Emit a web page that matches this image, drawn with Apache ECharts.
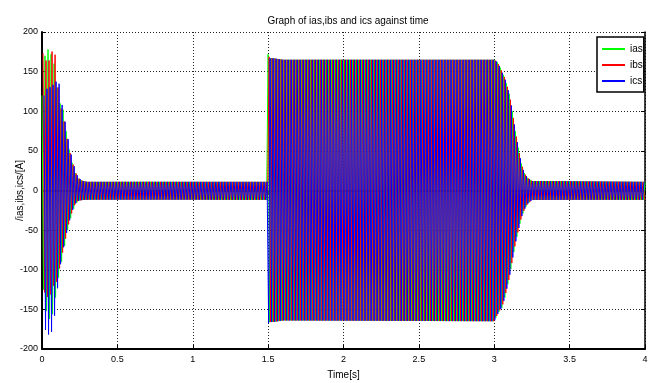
<!DOCTYPE html>
<html>
<head>
<meta charset="utf-8">
<script src="https://cdn.jsdelivr.net/npm/echarts@6/dist/echarts.min.js"></script>
<style>
  html, body { margin: 0; padding: 0; background: #fff; }
  #chart { width: 655px; height: 383px; }
</style>
</head>
<body>
<div id="chart"></div>
<script>
// Stator phase currents of the machine, 0..4 s, supply at 50 Hz.
const SUPPLY_HZ = 50;
const phaseNames = ['ias', 'ibs', 'ics'];
const phaseColors = ['#00ff00', '#ff0000', '#0000ff'];
const phaseDelayFraction = [0, 1 / 3, 2 / 3]; // 120 degree phase shift, as fraction of a period

const xTicks = [0, 0.5, 1, 1.5, 2, 2.5, 3, 3.5, 4];
const yTicks = [-200, -150, -100, -50, 0, 50, 100, 150, 200];

// Start-up transient: peak currents (A) per phase
const startTimes = [0, 0.01, 0.02, 0.03, 0.04, 0.05, 0.06, 0.07, 0.08, 0.09, 0.10, 0.11, 0.12, 0.13, 0.14, 0.15, 0.16, 0.17, 0.18, 0.19, 0.20, 0.22, 0.24, 0.27, 0.30];
const iasStartUpper = [120, 150, 170, 178, 178, 174, 172, 165, 160, 145, 130, 118, 110, 105, 102, 88, 75, 62, 52, 43, 35, 22, 15, 12, 11];
const ibsStartUpper = [150, 185, 172, 160, 162, 165, 172, 177, 174, 170, 140, 125, 110, 100, 92, 85, 72, 62, 52, 45, 37, 24, 16, 12, 11];
const icsStartUpper = [60, 110, 140, 130, 125, 128, 135, 134, 132, 136, 140, 138, 128, 112, 100, 90, 80, 68, 58, 48, 40, 26, 16, 12, 11];
const iasStartLower = [-100, -125, -140, -152, -160, -162, -160, -156, -150, -135, -120, -110, -100, -90, -80, -70, -60, -50, -42, -35, -28, -18, -13, -12, -11.7];
const ibsStartLower = [-120, -126, -130, -133, -135, -133, -130, -124, -118, -116, -115, -105, -95, -85, -75, -66, -58, -48, -40, -33, -27, -17, -13, -12, -11.7];
const icsStartLower = [-185, -178, -175, -178, -180, -185, -180, -175, -162, -150, -130, -110, -97, -85, -75, -65, -56, -48, -40, -33, -26, -17, -13, -12, -11.7];

// Running period: no-load, load step at 1.5 s, load removed at 3.0 s
const runTimes = [0.30, 1.499, 1.50, 1.51, 1.53, 1.60, 3.00, 3.02, 3.04, 3.05, 3.07, 3.10, 3.12, 3.14, 3.16, 3.18, 3.20, 3.22, 3.25, 4.00];
const runUpper = [11, 11, 172, 167, 167, 165, 165, 162, 155, 150, 142, 122, 100, 75, 54, 34, 22, 16, 12, 11];
const runLower = [-11.7, -11.7, -168, -166, -166, -164, -165, -157, -150, -148, -135, -110, -88, -67, -50, -34, -24, -17, -12, -11.7];

const startUpperByPhase = [iasStartUpper, ibsStartUpper, icsStartUpper];
const startLowerByPhase = [iasStartLower, ibsStartLower, icsStartLower];

function lookup(times, values, t) {
  if (t <= times[0]) return values[0];
  for (let i = 1; i < times.length; i++) {
    if (t <= times[i]) {
      const f = (t - times[i - 1]) / (times[i] - times[i - 1]);
      return values[i - 1] + f * (values[i] - values[i - 1]);
    }
  }
  return values[values.length - 1];
}

function peakAt(p, t, positive) {
  if (t < runTimes[0]) {
    return lookup(startTimes, positive ? startUpperByPhase[p] : startLowerByPhase[p], t);
  }
  return lookup(runTimes, positive ? runUpper : runLower, t);
}

// Each phase is drawn through its successive positive and negative peaks.
function phaseSeries(p) {
  const halfPeriod = 0.5 / SUPPLY_HZ;
  const delay = phaseDelayFraction[p] / SUPPLY_HZ;
  const pts = [];
  for (let k = 0; ; k++) {
    const t = delay + k * halfPeriod;
    if (t > 4) break;
    pts.push([t, peakAt(p, t, k % 2 === 0)]);
  }
  return pts;
}

const FONT = '"Liberation Sans Narrow", "Liberation Sans", Arial, sans-serif';

const series = phaseNames.map((name, p) => ({
  name: name,
  type: 'line',
  data: phaseSeries(p),
  symbol: 'none',
  showSymbol: false,
  sampling: false,
  animation: false,
  lineStyle: { width: 1, color: phaseColors[p] },
  itemStyle: { color: phaseColors[p] },
  xAxisIndex: 0,
  yAxisIndex: 0,
  z: 3
}));

const chart = echarts.init(document.getElementById('chart'), null, { renderer: 'canvas' });
chart.setOption({
  backgroundColor: '#ffffff',
  animation: false,
  title: {
    text: 'Graph of ias,ibs and ics against time',
    left: 343,
    top: 11,
    textAlign: 'center',
    textStyle: { fontFamily: FONT, fontSize: 10, fontWeight: 'normal', color: '#000' }
  },
  legend: {
    data: phaseNames.map((n, p) => ({ name: n, icon: 'rect', itemStyle: { color: phaseColors[p] } })),
    orient: 'vertical',
    left: 597,
    top: 37,
    padding: [6, 1, 5, 5],
    itemGap: 4,
    itemWidth: 23,
    itemHeight: 2,
    backgroundColor: '#fff',
    borderColor: '#000',
    borderWidth: 1.5,
    borderRadius: 0,
    selectedMode: false,
    textStyle: { fontFamily: FONT, fontSize: 10, color: '#000', lineHeight: 12 }
  },
  grid: { left: 42, right: 10, top: 32, bottom: 34, containLabel: false, outerBoundsMode: 'none' },
  xAxis: [
    {
      type: 'value', min: xTicks[0], max: xTicks[xTicks.length - 1], interval: 0.5,
      name: 'Time[s]', nameLocation: 'middle', nameGap: 21, nameMoveOverlap: false,
      nameTextStyle: { fontFamily: FONT, fontSize: 10, color: '#000' },
      axisLine: { show: true, onZero: false, lineStyle: { color: '#000', width: 2 } },
      axisTick: { show: true, inside: true, length: 4, lineStyle: { color: '#000' } },
      axisLabel: { fontFamily: FONT, fontSize: 9, color: '#000', margin: 6 },
      splitLine: { show: true, lineStyle: { color: '#222', width: 1, type: [1, 2] } }
    },
    {
      type: 'value', position: 'top', min: xTicks[0], max: xTicks[xTicks.length - 1], interval: 0.5,
      axisLine: { show: true, lineStyle: { color: '#000', width: 1.5 } },
      axisTick: { show: true, inside: true, length: 4, lineStyle: { color: '#000' } },
      axisLabel: { show: false },
      splitLine: { show: false }
    }
  ],
  yAxis: [
    {
      type: 'value', min: yTicks[0], max: yTicks[yTicks.length - 1], interval: 50,
      name: '/ias,ibs,ics/[A]', nameLocation: 'middle', nameGap: 17, nameMoveOverlap: false,
      nameTextStyle: { fontFamily: FONT, fontSize: 10, color: '#000' },
      axisLine: { show: true, onZero: false, lineStyle: { color: '#000', width: 2 } },
      axisTick: { show: true, inside: true, length: 4, lineStyle: { color: '#000' } },
      axisLabel: { fontFamily: FONT, fontSize: 9, color: '#000', margin: 4 },
      splitLine: { show: true, lineStyle: { color: '#222', width: 1, type: [1, 2] } }
    },
    {
      type: 'value', position: 'right', min: yTicks[0], max: yTicks[yTicks.length - 1], interval: 50,
      axisLine: { show: true, onZero: false, lineStyle: { color: '#000', width: 1.5 } },
      axisTick: { show: true, inside: true, length: 4, lineStyle: { color: '#000' } },
      axisLabel: { show: false },
      splitLine: { show: false }
    }
  ],
  series: series
});
</script>
</body>
</html>
